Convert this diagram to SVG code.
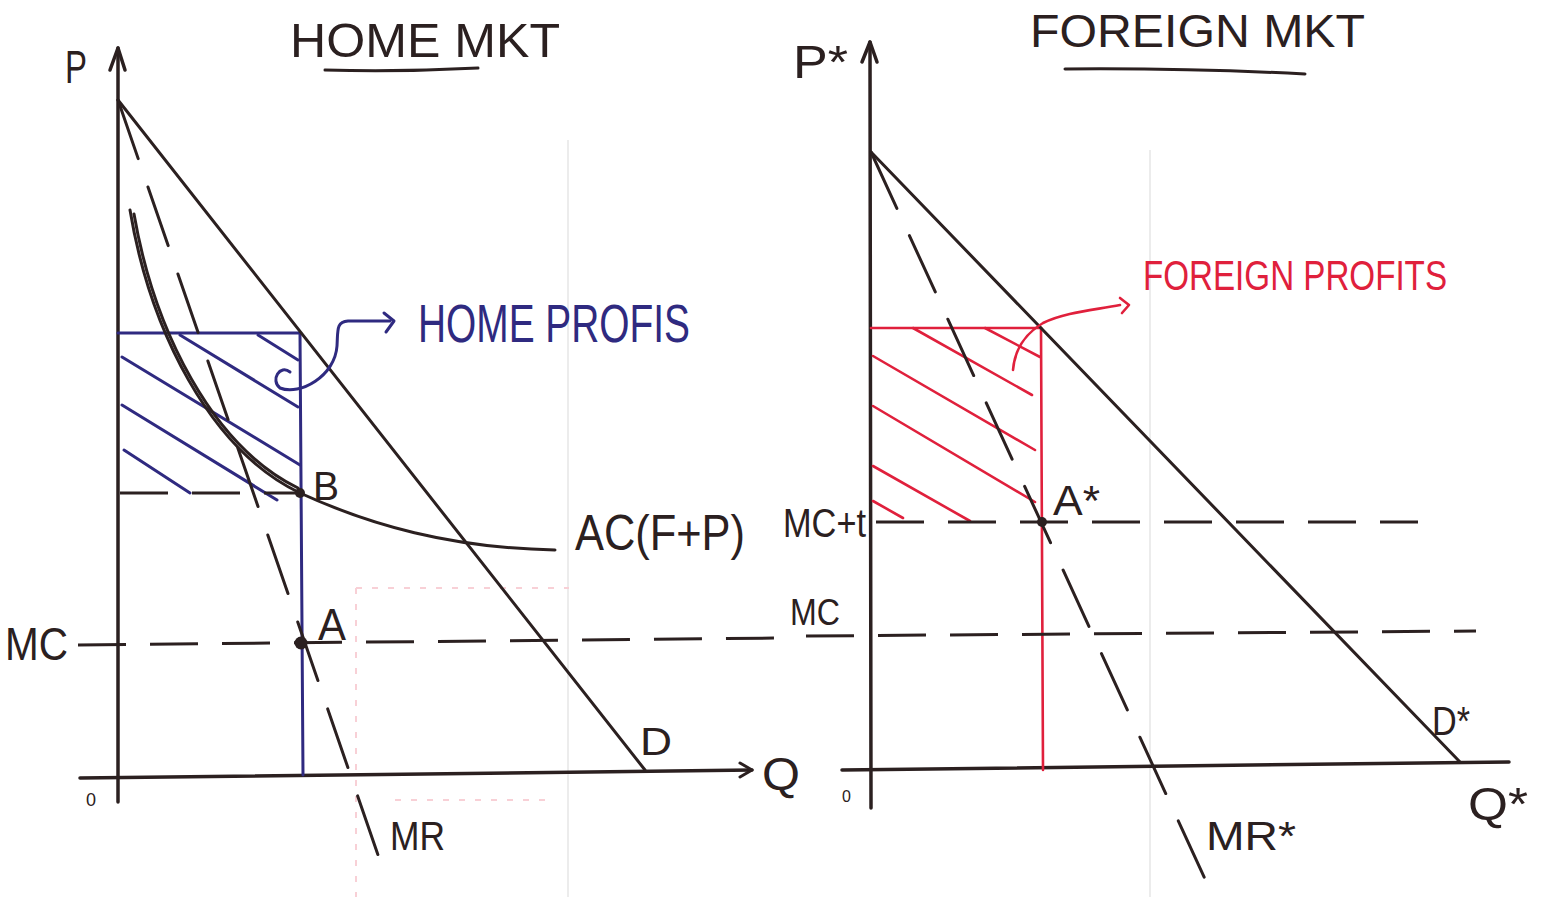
<svg xmlns="http://www.w3.org/2000/svg" width="1546" height="897" viewBox="0 0 1546 897">
<style>
.ink{stroke:#2b2020;stroke-width:3;fill:none;stroke-linecap:round;stroke-linejoin:round}
.axis{stroke:#2b2020;stroke-width:3.5;fill:none;stroke-linecap:round;stroke-linejoin:round}
.dash-mr{stroke:#2b2020;stroke-width:3;fill:none;stroke-dasharray:62 30;stroke-linecap:round}
.dash-h{stroke:#2b2020;stroke-width:3;fill:none;stroke-dasharray:48 24}
.blue{stroke:#2f2a80;stroke-width:3;fill:none;stroke-linecap:round;stroke-linejoin:round}
.red{stroke:#e0203c;stroke-width:2.6;fill:none;stroke-linecap:round;stroke-linejoin:round}
.faint{stroke:#ececec;stroke-width:2;fill:none}
.fpink{stroke:#f8d0d6;stroke-width:2;fill:none;stroke-dasharray:6 10}
.t{font-family:"Liberation Sans",Arial,sans-serif;fill:#2b2020}
.tb{font-family:"Liberation Sans",Arial,sans-serif;fill:#2f2a80}
.tr{font-family:"Liberation Sans",Arial,sans-serif;fill:#e0203c}
</style>
<rect width="1546" height="897" fill="#ffffff"/>

<g id="background-showthrough">
<line class="faint" x1="568" y1="140" x2="568" y2="897"/>
<line class="faint" x1="1150" y1="150" x2="1150" y2="897"/>
<line class="fpink" x1="356" y1="588" x2="356" y2="897"/>
<line class="fpink" x1="356" y1="588" x2="569" y2="588"/>
<line class="fpink" x1="395" y1="800" x2="555" y2="800"/>
</g>

<g id="home-market">
<g id="home-title">
<text class="t" x="290" y="57" font-size="48" textLength="270" lengthAdjust="spacingAndGlyphs">HOME MKT</text>
<path class="ink" d="M325,70 Q400,72 478,68"/>
</g>
<g id="home-axes">
<line class="axis" x1="118" y1="802" x2="118" y2="48"/>
<polyline class="axis" points="110,70 118,48 125,70"/>
<line class="axis" x1="80" y1="778" x2="752" y2="770"/>
<polyline class="ink" points="740,763 752,770 740,777"/>
<text class="t" x="65" y="83" font-size="46" textLength="22" lengthAdjust="spacingAndGlyphs">P</text>
<text class="t" x="762" y="790" font-size="46" textLength="38" lengthAdjust="spacingAndGlyphs">Q</text>
<text class="t" x="86" y="806" font-size="18">0</text>
</g>
<g id="home-profits-area">
<line class="blue" x1="118" y1="333" x2="300" y2="333"/>
<line class="blue" x1="300" y1="333" x2="303" y2="775"/>
<line class="blue" x1="180" y1="335" x2="298" y2="407"/>
<line class="blue" x1="258" y1="335" x2="298" y2="360"/>
<line class="blue" x1="122" y1="357" x2="300" y2="465"/>
<line class="blue" x1="122" y1="405" x2="277" y2="500"/>
<line class="blue" x1="124" y1="450" x2="190" y2="493"/>
</g>
<g id="home-demand">
<line class="ink" x1="118" y1="100" x2="645" y2="770"/>
<text class="t" x="640" y="755" font-size="38" textLength="32" lengthAdjust="spacingAndGlyphs">D</text>
</g>
<g id="home-mr">
<line class="dash-mr" x1="118" y1="100" x2="378" y2="855"/>
<text class="t" x="390" y="850" font-size="40" textLength="55" lengthAdjust="spacingAndGlyphs">MR</text>
</g>
<g id="home-ac">
<path class="ink" stroke-width="3.5" d="M130,210 C150,330 210,450 300,493"/>
<path class="ink" stroke-width="4.5" d="M300,493 C370,525 450,548 555,550"/>
<path class="ink" stroke-width="2" d="M134,214 C154,330 212,446 298,488"/>
<text class="t" x="575" y="550" font-size="50" textLength="170" lengthAdjust="spacingAndGlyphs">AC(F+P)</text>
</g>
<g id="home-point-b">
<line class="dash-h" x1="120" y1="493" x2="300" y2="493"/>
<circle cx="300" cy="493" r="5" fill="#2b2020"/>
<text class="t" x="313" y="500" font-size="40" textLength="26" lengthAdjust="spacingAndGlyphs">B</text>
</g>
<g id="home-point-a">
<line class="dash-h" x1="78" y1="645" x2="778" y2="638"/>
<circle cx="301" cy="643" r="6.5" fill="#2b2020"/>
<text class="t" x="318" y="640" font-size="44" textLength="28" lengthAdjust="spacingAndGlyphs">A</text>
<text class="t" x="5" y="660" font-size="46" textLength="63" lengthAdjust="spacingAndGlyphs">MC</text>
</g>
<g id="home-profits-label">
<path class="blue" d="M290,372 C280,364 270,380 280,388 C300,396 335,376 337,346 C338,330 336,322 348,321 L390,321"/>
<polyline class="blue" points="384,313 394,321 386,332"/>
<text class="tb" x="418" y="342" font-size="54" textLength="272" lengthAdjust="spacingAndGlyphs">HOME PROFIS</text>
</g>
</g>

<g id="foreign-market">
<g id="foreign-title">
<text class="t" x="1030" y="47" font-size="46" textLength="335" lengthAdjust="spacingAndGlyphs">FOREIGN MKT</text>
<path class="ink" d="M1065,69 Q1190,68 1305,74"/>
</g>
<g id="foreign-axes">
<line class="axis" x1="871" y1="808" x2="870" y2="42"/>
<polyline class="axis" points="862,62 870,42 877,62"/>
<line class="axis" x1="842" y1="770" x2="1509" y2="762"/>
<text class="t" x="793" y="78" font-size="46" textLength="55" lengthAdjust="spacingAndGlyphs">P*</text>
<text class="t" x="1468" y="820" font-size="46" textLength="60" lengthAdjust="spacingAndGlyphs">Q*</text>
<text class="t" x="842" y="802" font-size="16">0</text>
</g>
<g id="foreign-profits-area">
<line class="red" x1="871" y1="328" x2="1041" y2="328"/>
<line class="red" x1="1041" y1="328" x2="1043" y2="770"/>
<line class="red" x1="913" y1="328" x2="1032" y2="395"/>
<line class="red" x1="985" y1="328" x2="1040" y2="357"/>
<line class="red" x1="873" y1="356" x2="1035" y2="450"/>
<line class="red" x1="873" y1="406" x2="1035" y2="502"/>
<line class="red" x1="873" y1="466" x2="970" y2="521"/>
<line class="red" x1="873" y1="501" x2="903" y2="518"/>
</g>
<g id="foreign-demand">
<line class="ink" x1="871" y1="152" x2="1460" y2="762"/>
<text class="t" x="1432" y="735" font-size="40" textLength="38" lengthAdjust="spacingAndGlyphs">D*</text>
</g>
<g id="foreign-mr">
<line class="dash-mr" x1="871" y1="152" x2="1211" y2="892"/>
<text class="t" x="1206" y="850" font-size="40" textLength="90" lengthAdjust="spacingAndGlyphs">MR*</text>
</g>
<g id="foreign-point-a">
<line class="dash-h" x1="876" y1="522" x2="1418" y2="522"/>
<circle cx="1042" cy="522" r="5" fill="#2b2020"/>
<text class="t" x="1053" y="515" font-size="42" textLength="47" lengthAdjust="spacingAndGlyphs">A*</text>
<text class="t" x="783" y="537" font-size="40" textLength="83" lengthAdjust="spacingAndGlyphs">MC+t</text>
</g>
<g id="foreign-mc">
<line class="dash-h" x1="806" y1="636" x2="1476" y2="631"/>
<text class="t" x="790" y="625" font-size="36" textLength="50" lengthAdjust="spacingAndGlyphs">MC</text>
</g>
<g id="foreign-profits-label">
<path class="red" d="M1013,370 C1015,346 1028,332 1043,323 C1065,312 1095,310 1120,305"/>
<polyline class="red" points="1120,298 1129,305 1122,313"/>
<text class="tr" x="1143" y="290" font-size="42" textLength="304" lengthAdjust="spacingAndGlyphs">FOREIGN PROFITS</text>
</g>
</g>
</svg>
